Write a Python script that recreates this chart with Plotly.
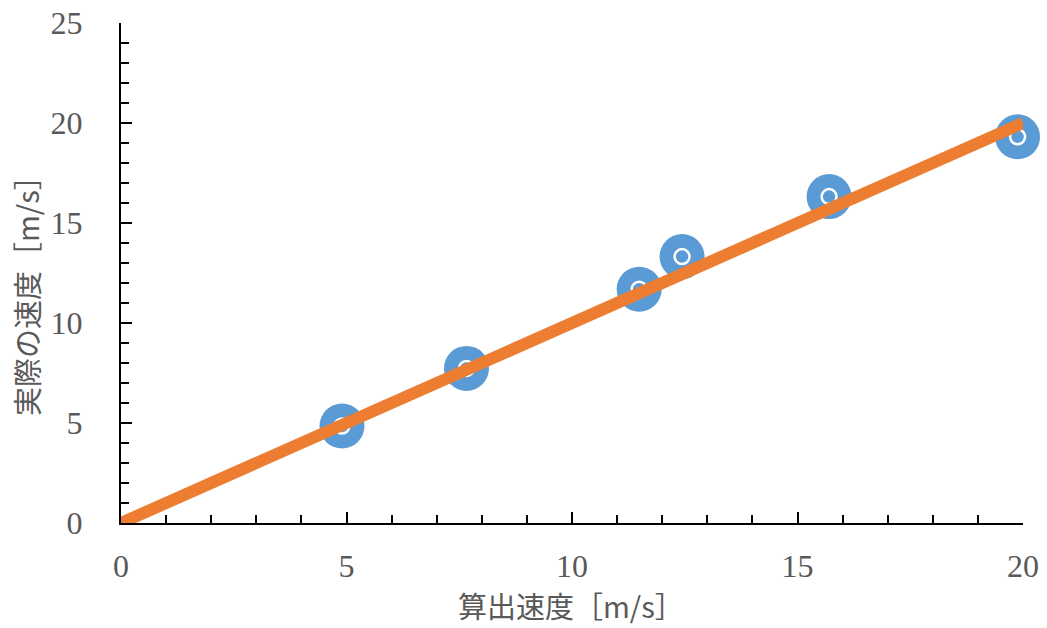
import plotly.graph_objects as go

calc_speed = [4.90, 7.66, 11.49, 12.44, 15.70, 19.88]
actual_speed = [4.85, 7.73, 11.69, 13.32, 16.32, 19.31]
fit_x = [0, 20]
fit_y = [0, 20]
x_title = "算出速度［m/s］"
y_title = "実際の速度［m/s］"

blue = "#5B9BD5"
orange = "#ED7D31"
gray = "#595959"

fig = go.Figure()
fig.add_trace(go.Scatter(x=calc_speed, y=actual_speed, mode="markers",
                         marker=dict(symbol="circle", size=45, color=blue, line=dict(width=0)),
                         showlegend=False, cliponaxis=False))
fig.add_trace(go.Scatter(x=calc_speed, y=actual_speed, mode="markers",
                         marker=dict(symbol="circle-open", size=15, color="white", line=dict(width=2.5, color="white")),
                         showlegend=False, cliponaxis=False))
fig.add_trace(go.Scatter(x=fit_x, y=fit_y, mode="lines",
                         line=dict(color=orange, width=12),
                         showlegend=False, cliponaxis=True))

tickfont = dict(family="Liberation Serif, DejaVu Serif, serif", size=32, color=gray)
titlefont = dict(family="Noto Sans CJK JP, sans-serif", size=29, color=gray)

fig.update_layout(
    width=1047, height=628,
    margin=dict(l=121, r=24, t=23, b=105),
    paper_bgcolor="white", plot_bgcolor="white",
    xaxis=dict(range=[0, 20], tickvals=[0, 5, 10, 15, 20], showgrid=False, zeroline=False,
               showline=True, linecolor="black", linewidth=2, automargin=False,
               ticks="inside", ticklen=11, tickwidth=2, tickcolor="black",
               minor=dict(dtick=1, ticks="inside", ticklen=8, tickwidth=1.5, tickcolor="black", showgrid=False),
               tickfont=tickfont, ticklabelstandoff=14),
    yaxis=dict(range=[0, 25], tickvals=[0, 5, 10, 15, 20, 25], showgrid=False, zeroline=False,
               showline=True, linecolor="black", linewidth=2, automargin=False,
               ticks="inside", ticklen=11, tickwidth=2, tickcolor="black",
               minor=dict(dtick=1, ticks="inside", ticklen=8, tickwidth=1.5, tickcolor="black", showgrid=False),
               tickfont=tickfont, ticklabelstandoff=30),
    annotations=[
        dict(text=x_title, xref="paper", yref="paper", x=0.499, y=-0.163,
             xanchor="center", yanchor="middle", showarrow=False, font=titlefont),
        dict(text=y_title, xref="paper", yref="paper", x=-0.1053, y=0.468,
             xanchor="center", yanchor="middle", showarrow=False, font=titlefont, textangle=-90),
    ],
)

fig.write_html("out.html")
